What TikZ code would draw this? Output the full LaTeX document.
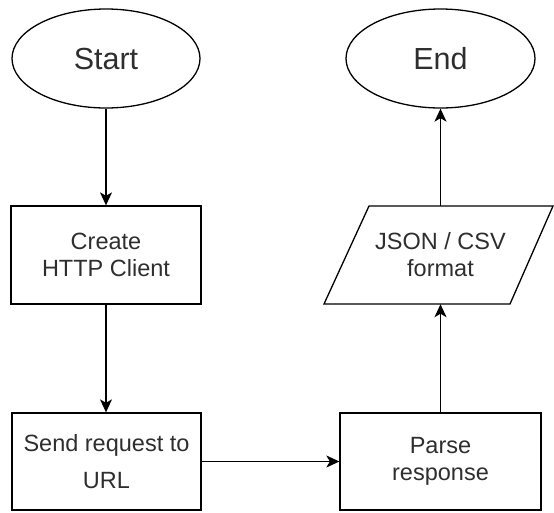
\documentclass[tikz,border=0pt]{standalone}
\usepackage{fontspec}
\setmainfont{Liberation Sans}
\usetikzlibrary{shapes.geometric,arrows.meta,calc}
\definecolor{txt}{HTML}{2E2E2E}
\tikzset{
  shape line/.style={draw=black, line width=1.3pt},
  term/.style={shape line, ellipse, inner sep=0pt, minimum width=188pt, minimum height=99pt,
    text=txt, font=\fontsize{30.5}{34}\selectfont},
  procbox/.style={shape line, rectangle, inner sep=0pt, minimum height=97pt,
    text=txt, align=center, font=\fontsize{23.5}{27}\selectfont},
  iobox/.style={rectangle, inner sep=0pt, minimum width=190pt, minimum height=98pt,
    text=txt, align=center, font=\fontsize{23.5}{27}\selectfont},
  conn/.style={draw=black, line width=1.3pt, -{Stealth[length=13pt,width=12pt,inset=3.5pt]}}
}
\begin{document}
\begin{tikzpicture}[x=1pt,y=-1pt]
\useasboundingbox (0,0) rectangle (554,512);
\node[term] (start) at (106,58.5) {Start};
\node[term, minimum width=189pt] (end) at (440.5,58.5) {End};
\node[procbox, minimum width=190pt, minimum height=98pt] (create) at (106,255) {Create\\HTTP Client};
\node[procbox, minimum width=189pt, font=\fontsize{23.5}{36.7}\selectfont] (send) at (106.5,461.5) {Send request to\\URL};
\node[procbox, minimum width=201pt] (parse) at (440.5,461.5) {Parse\\response};
\node[iobox] (fmt) at (440.5,255) {JSON / CSV\\format};
\draw[shape line] (324,304) -- (369,206) -- (553,206) -- (510,304) -- cycle;
\draw[conn] (start.south) -- (create.north);
\draw[conn] (create.south) -- (create.south |- send.north);
\draw[conn] (send.east) -- (parse.west);
\draw[conn] (parse.north) -- (parse.north |- fmt.south);
\draw[conn] (fmt.north) -- (end.south);
\end{tikzpicture}
\end{document}
